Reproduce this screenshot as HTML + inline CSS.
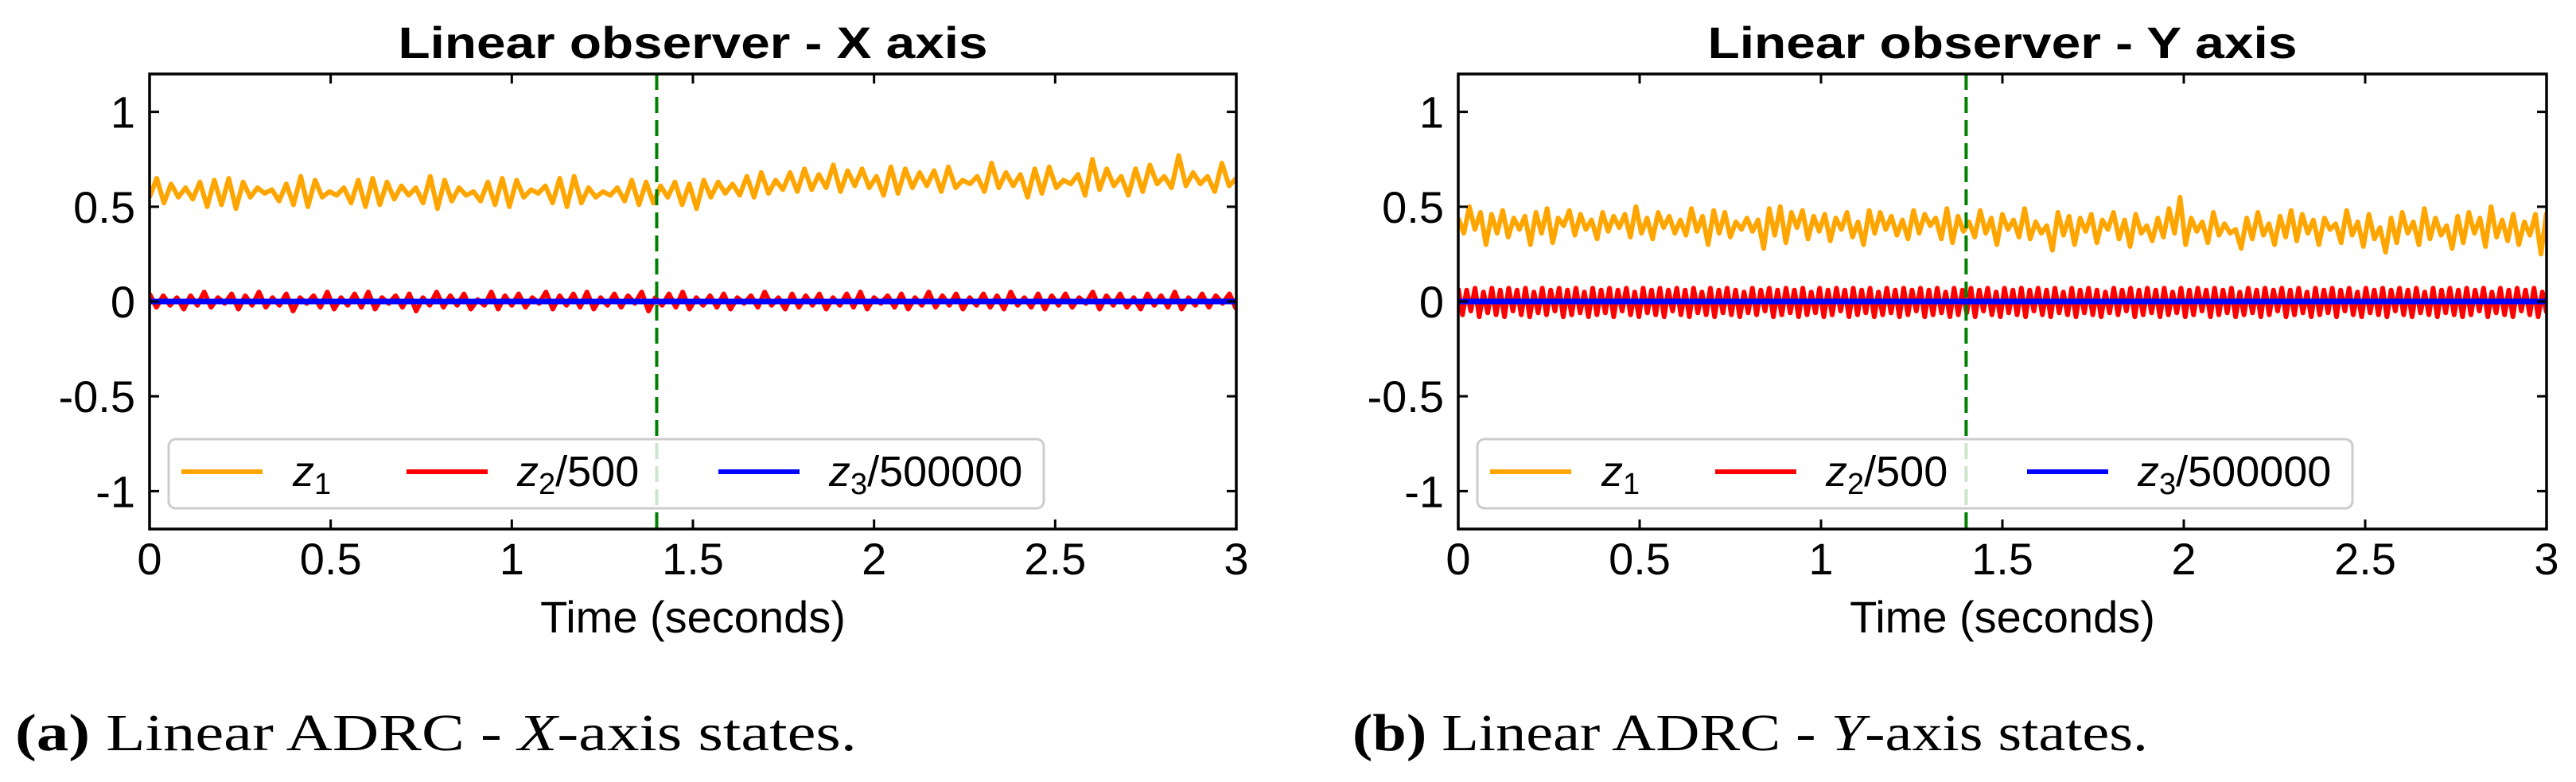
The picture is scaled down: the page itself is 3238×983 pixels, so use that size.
<!DOCTYPE html>
<html><head><meta charset="utf-8">
<style>
html,body{margin:0;padding:0;background:#fff;}
svg{display:block;}
text{font-family:"Liberation Sans",sans-serif;}
.cap{font-family:"Liberation Serif",serif;}
</style></head>
<body>
<svg id="fig" width="3238" height="983" viewBox="0 0 3238 983" xmlns="http://www.w3.org/2000/svg">
<rect width="3238" height="983" fill="#fff"/>
<g id="panelA"></g>
<g id="panelB"></g>
<text class="cap" x="19" y="943" font-size="66" textLength="1058" lengthAdjust="spacingAndGlyphs"><tspan font-weight="bold">(a)</tspan> Linear ADRC - <tspan font-style="italic">X</tspan>-axis states.</text>
<text class="cap" x="1700" y="943" font-size="66" textLength="1000" lengthAdjust="spacingAndGlyphs"><tspan font-weight="bold">(b)</tspan> Linear ADRC - <tspan font-style="italic">Y</tspan>-axis states.</text>
</svg>
<script>
const xTicks = [0, 0.5, 1, 1.5, 2, 2.5, 3];
const xTickLabels = ["0", "0.5", "1", "1.5", "2", "2.5", "3"];
const yTicks = [-1, -0.5, 0, 0.5, 1];
const yTickLabels = ["-1", "-0.5", "0", "0.5", "1"];
const switchTime = 1.4;
const seriesNames = ["z1", "z2/500", "z3/500000"];

const xZ1 = [0.55,0.65,0.52,0.62,0.55,0.60,0.54,0.63,0.50,0.64,0.51,0.65,0.49,0.63,0.55,0.60,0.57,0.59,0.53,0.62,0.51,0.66,0.50,0.64,0.55,0.58,0.56,0.60,0.52,0.64,0.50,0.65,0.51,0.63,0.54,0.61,0.56,0.60,0.52,0.66,0.49,0.64,0.53,0.60,0.56,0.58,0.53,0.63,0.51,0.65,0.50,0.64,0.55,0.59,0.57,0.61,0.52,0.65,0.50,0.66,0.52,0.60,0.55,0.58,0.56,0.60,0.53,0.64,0.51,0.63,0.52,0.61,0.55,0.63,0.51,0.62,
0.49,0.64,0.55,0.63,0.57,0.62,0.56,0.66,0.55,0.68,0.57,0.64,0.59,0.68,0.58,0.70,0.59,0.67,0.60,0.72,0.58,0.69,0.61,0.70,0.60,0.66,0.56,0.71,0.57,0.70,0.60,0.68,0.61,0.69,0.58,0.71,0.60,0.64,0.62,0.66,0.58,0.73,0.60,0.68,0.61,0.67,0.55,0.70,0.57,0.71,0.60,0.64,0.62,0.67,0.56,0.75,0.59,0.70,0.61,0.66,0.56,0.70,0.58,0.72,0.62,0.66,0.60,0.77,0.61,0.68,0.62,0.66,0.58,0.73,0.61,0.65];
const xZ2 = [.04,-.03,.03,-.02,.02,-.04,.03,-.02,.05,-.03,.02,-.01,.04,-.04,.03,-.02,.05,-.03,.02,-.02,.04,-.05,.02,-.01,.03,-.03,.05,-.04,.02,-.02,.04,-.03,.05,-.04,.02,-.01,.03,-.03,.04,-.05,.02,-.02,.05,-.03,.03,-.02,.04,-.04,.01,-.02,.05,-.04,.03,-.02,.04,-.03,.02,-.01,.05,-.04,
.03,-.02,.04,-.03,.05,-.04,.02,-.02,.04,-.03,.03,-.01,.05,-.05,.02,-.02,.04,-.03,.05,-.04,.02,-.02,.03,-.03,.04,-.04,.02,-.01,.03,-.03,.05,-.02,.02,-.04,.04,-.03,.03,-.02,.04,-.04,.02,-.02,.04,-.03,.05,-.04,.02,-.01,.03,-.03,.04,-.04,.02,-.02,.05,-.03,.03,-.02,.04,-.04,
.02,-.02,.04,-.03,.03,-.04,.05,-.02,.02,-.03,.04,-.04,.03,-.02,.04,-.03,.02,-.01,.05,-.04,.03,-.02,.04,-.03,.02,-.04,.04,-.02,.03,-.03,.05,-.04,.02,-.02,.04,-.03,.03,-.01,.04,-.04];
const xZ3 = [0, 0, 0, 0, 0, 0, 0];

const yZ1 = [0.44,0.36,0.50,0.38,0.47,0.30,0.46,0.36,0.48,0.34,0.44,0.38,0.45,0.30,0.47,0.36,0.49,0.31,0.44,0.40,0.48,0.35,0.46,0.38,0.43,0.33,0.47,0.37,0.45,0.39,0.46,0.34,0.50,0.36,0.44,0.33,0.47,0.39,0.45,0.36,
0.43,0.35,0.49,0.37,0.45,0.30,0.48,0.36,0.47,0.34,0.42,0.38,0.44,0.37,0.43,0.28,0.49,0.35,0.50,0.31,0.47,0.39,0.48,0.33,0.45,0.37,0.46,0.32,0.44,0.38,0.47,0.34,0.42,0.30,0.48,0.36,0.47,0.38,0.45,0.35,
0.43,0.33,0.48,0.36,0.46,0.40,0.44,0.33,0.49,0.31,0.45,0.37,0.42,0.34,0.48,0.36,0.44,0.30,0.46,0.38,0.43,0.34,0.49,0.33,0.42,0.36,0.40,0.27,0.47,0.35,0.45,0.30,0.44,0.37,0.46,0.31,0.43,0.38,0.47,0.33,
0.43,0.29,0.46,0.36,0.40,0.32,0.44,0.34,0.49,0.36,0.55,0.30,0.44,0.37,0.42,0.31,0.47,0.35,0.41,0.36,0.38,0.28,0.44,0.33,0.47,0.35,0.41,0.30,0.45,0.34,0.48,0.32,0.46,0.36,0.43,0.30,0.44,0.38,0.41,0.31,
0.48,0.35,0.42,0.29,0.46,0.33,0.39,0.26,0.44,0.31,0.47,0.36,0.42,0.30,0.49,0.33,0.44,0.35,0.40,0.28,0.45,0.31,0.47,0.36,0.44,0.29,0.50,0.34,0.43,0.32,0.46,0.30,0.42,0.35,0.46,0.25,0.47];
const yZ2 = [.07,-.07,.06,-.05,.07,-.08,.05,-.06,.07,-.07,.06,-.08,.07,-.05,.06,-.07,.07,-.08,.05,-.06,.07,-.07,.06,-.05,.07,-.08,.06,-.07,.07,-.06,.05,-.08,.07,-.07,.06,-.06,.07,-.08,.06,-.05,
.07,-.07,.05,-.08,.07,-.06,.06,-.07,.07,-.08,.06,-.05,.07,-.07,.06,-.08,.07,-.06,.05,-.07,.07,-.08,.06,-.06,.07,-.07,.06,-.08,.05,-.06,.07,-.07,.06,-.05,.07,-.08,.06,-.07,.07,-.06,
.06,-.08,.07,-.07,.05,-.06,.07,-.08,.06,-.07,.07,-.05,.06,-.08,.07,-.07,.06,-.06,.07,-.08,.05,-.07,.07,-.06,.06,-.08,.07,-.07,.06,-.05,.07,-.08,.06,-.07,.07,-.06,.05,-.08,.07,-.07,
.06,-.06,.07,-.08,.06,-.05,.07,-.07,.05,-.08,.07,-.06,.06,-.07,.07,-.08,.06,-.05,.07,-.07,.06,-.08,.07,-.06,.05,-.07,.07,-.08,.06,-.06,.07,-.07,.06,-.08,.05,-.06,.07,-.07,.06,-.05,
.07,-.08,.06,-.07,.07,-.06,.06,-.08,.07,-.07,.05,-.06,.07,-.08,.06,-.07,.07,-.05,.06,-.08,.07,-.07,.06,-.06,.07,-.08,.05,-.07,.07,-.06,.06,-.08,.07,-.07,.06,-.05,.07,-.08,.06,-.07,
.07,-.06,.05,-.08,.07,-.07,.06,-.06,.07,-.08,.06,-.05,.07,-.07,.05,-.08,.07,-.06,.06,-.07,.07,-.08,.06,-.05,.07,-.07,.06,-.08,.07,-.06,.05,-.07,.07,-.08,.06,-.06,.07,-.07,.06,-.08,
.07,-.07,.06,-.05,.07,-.08,.05,-.06,.07,-.07,.06,-.08,.07,-.05,.06,-.07,.07,-.08,.05,-.06];
const yZ3 = [0, 0, 0, 0, 0, 0, 0];

const NS = "http://www.w3.org/2000/svg";
const X_MIN = 0, X_MAX = 3, Y_MIN = -1.2, Y_MAX = 1.2;
const TOP = 93, BOTTOM = 665;

function mk(tag, attrs, parent) {
  const el = document.createElementNS(NS, tag);
  for (const k in attrs) el.setAttribute(k, attrs[k]);
  parent.appendChild(el);
  return el;
}

function drawPanel(g, left, right, title, z1, z2, z3) {
  const xs = t => left + (t - X_MIN) / (X_MAX - X_MIN) * (right - left);
  const ys = v => BOTTOM - (v - Y_MIN) / (Y_MAX - Y_MIN) * (BOTTOM - TOP);
  const cx = (left + right) / 2;

  const clipId = "clip" + left;
  const defs = mk("defs", {}, g);
  const cp = mk("clipPath", {id: clipId}, defs);
  mk("rect", {x: left, y: TOP, width: right - left, height: BOTTOM - TOP}, cp);

  const plot = mk("g", {"clip-path": "url(#" + clipId + ")"}, g);
  
  

  function line(arr, color, w, name) {
    const pts = arr.map((v, i) => xs(X_MIN + i * (X_MAX - X_MIN) / (arr.length - 1)).toFixed(1) + "," + ys(v).toFixed(1)).join(" ");
    const pl = mk("polyline", {points: pts, fill: "none", stroke: color, "stroke-width": w, "stroke-linejoin": "round"}, plot);
    
    
  }
  line(z1, "#ffa500", 6, "series-z1");
  line(z2, "#ff0000", 6, "series-z2");
  line(z3, "#0000ff", 7, "series-z3");

  const vl = mk("line", {x1: xs(switchTime), x2: xs(switchTime), y1: TOP, y2: BOTTOM, stroke: "#008000", "stroke-width": 4, "stroke-dasharray": "20 9"}, plot);
  
  

  xTicks.forEach((t, i) => {
    const x = xs(t);
    const tk = mk("path", {d: `M${x},${BOTTOM}v-12M${x},${TOP}v12`, stroke: "#000", "stroke-width": 3}, g);
    
    
    const tl = mk("text", {x: x, y: 722, "font-size": 56, "text-anchor": "middle"}, g);
    tl.textContent = xTickLabels[i];
    
    
  });
  yTicks.forEach((v, i) => {
    const y = ys(v);
    const tk = mk("path", {d: `M${left},${y}h12M${right},${y}h-12`, stroke: "#000", "stroke-width": 3}, g);
    
    
    const tl = mk("text", {x: left - 18, y: y + 20, "font-size": 56, "text-anchor": "end"}, g);
    tl.textContent = yTickLabels[i];
    
    
  });

  const lg = mk("g", {}, g);
  
  
  mk("rect", {x: left + 24, y: 552, width: 1100, height: 87, rx: 9, fill: "#fff", "fill-opacity": 0.8, stroke: "#cccccc", "stroke-width": 3}, lg);
  const entries = [
    {c: "#ffa500", lx: 40, tx: 180, sub: "1", rest: ""},
    {c: "#ff0000", lx: 323, tx: 462, sub: "2", rest: "/500"},
    {c: "#0000ff", lx: 715, tx: 854, sub: "3", rest: "/500000"}
  ];
  entries.forEach((e, i) => {
    const eg = mk("g", {}, lg);
    
    
    mk("line", {x1: left + e.lx, x2: left + e.lx + 102, y1: 593, y2: 593, stroke: e.c, "stroke-width": 6}, eg);
    const t = mk("text", {x: left + e.tx, y: 611, "font-size": 54}, eg);
    t.innerHTML = '<tspan font-style="italic">z</tspan><tspan font-size="38" dy="10">' + e.sub + '</tspan><tspan dy="-10">' + e.rest + '</tspan>';
    
    
  });

  const fr = mk("rect", {x: left, y: TOP, width: right - left, height: BOTTOM - TOP, fill: "none", stroke: "#000", "stroke-width": 3.5}, g);
  
  

  const tt = mk("text", {x: cx, y: 73, "font-size": 56, "font-weight": "bold", "text-anchor": "middle", textLength: 741, lengthAdjust: "spacingAndGlyphs"}, g);
  tt.textContent = title;
  
  

  const xl = mk("text", {x: cx, y: 795, "font-size": 56, "text-anchor": "middle"}, g);
  xl.textContent = "Time (seconds)";
  
  
}

drawPanel(document.getElementById("panelA"), 188, 1554, "Linear observer - X axis", xZ1, xZ2, xZ3);
drawPanel(document.getElementById("panelB"), 1833, 3201, "Linear observer - Y axis", yZ1, yZ2, yZ3);
</script>
</body></html>
